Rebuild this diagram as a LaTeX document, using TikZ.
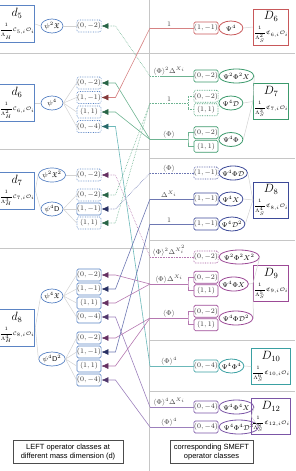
\documentclass[tikz,border=0pt]{standalone}
\usepackage{amsmath,amssymb}
\usepackage{fontspec}
\newfontfamily\notefont{Liberation Sans}
\usetikzlibrary{arrows.meta,shapes.geometric}
\definecolor{leftB}{HTML}{5B84C4}
\definecolor{smR}{HTML}{C8585A}
\definecolor{smG}{HTML}{3C9A6C}
\definecolor{smN}{HTML}{3D4A98}
\definecolor{smM}{HTML}{9C4A96}
\definecolor{smT}{HTML}{3AA0A2}
\definecolor{smV}{HTML}{7B55A6}
\newcommand{\coefsize}{\fontsize{5.2}{6}\selectfont}
\begin{document}
\begin{tikzpicture}[
  x=1pt, y=-1pt,
  font=\scriptsize,
  sep/.style={draw=gray!45, line width=0.8pt},
  dcls/.style={draw=leftB, line width=0.8pt, minimum width=31pt, minimum height=37pt, inner xsep=0.5pt, inner ysep=1pt, align=center},
  lop/.style={ellipse, draw=leftB, line width=0.7pt, minimum width=22pt, minimum height=14pt, inner sep=0pt},
  qn/.style={draw=#1, rounded corners=1.5pt, line width=0.7pt, minimum width=24pt, minimum height=12pt, inner sep=0pt, text=black!80},
  fan/.style={draw=gray!35, line width=0.5pt},
  link/.style={line width=0.6pt},
  glab/.style={anchor=south, inner sep=1pt, text=black!75},
  rop/.style={ellipse, draw=#1, line width=0.8pt, minimum width=24pt, minimum height=14pt, inner xsep=-1pt, inner ysep=-1pt, anchor=west},
  Dcls/.style={draw=#1, line width=0.9pt, minimum width=34pt, minimum height=36pt, inner xsep=0.5pt, inner ysep=1pt, align=center},
  note/.style={draw=black!70, line width=0.6pt, font=\notefont\fontsize{7.5}{9}\selectfont, align=center, inner sep=2pt, minimum height=23pt}
]
\useasboundingbox (0,0) rectangle (295,471);
\draw[sep] (149.5,0) -- (149.5,471);
\foreach \y in {53,149,248} \draw[sep] (0,\y) -- (149.5,\y);
\foreach \y in {53,158,240,340,391} \draw[sep] (149.5,\y) -- (295,\y);

\foreach \n/\y in {5/24, 6/103, 7/190.5, 8/327.5}{
  \pgfmathtruncatemacro{\p}{\n-4}
  \node[dcls] (d\n) at (17,\y) {{\large$d_{\n}$}\\[4pt]\coefsize$\dfrac{1}{\Lambda_H^{\ifnum\p>1 \p\fi}}\mathcal{C}_{\n,i}\mathcal{O}_i$};
}

\node[lop] (e5) at (52,26) {$\psi^2\mathfrak{X}$};
\node[lop] (e6) at (52,103) {$\psi^4$};
\node[lop] (e7a) at (52,175) {$\psi^2\mathfrak{X}^2$};
\node[lop] (e7b) at (52,209) {$\psi^4\mathsf{D}$};
\node[lop] (e8a) at (52,296) {$\psi^4\mathfrak{X}$};
\node[lop] (e8b) at (52,359) {$\psi^4\mathsf{D}^2$};
\foreach \d/\e in {d5/e5, d6/e6, d7/e7a, d7/e7b, d8/e8a, d8/e8b}
  \draw[fan] (\d.east) -- (\e.west);

\foreach \n/\y/\q/\e/\sty in {
  5/26/{(0,-2)}/e5/densely dotted,
  6a/83/{(0,-2)}/e6/densely dotted, 6b/97.5/{(1,-1)}/e6/densely dotted,
  6c/112/{(1,1)}/e6/densely dotted, 6d/126.5/{(0,-4)}/e6/densely dotted,
  7a/175/{(0,-2)}/e7a/densely dotted,
  7b/195/{(0,-2)}/e7b/densely dotted, 7c/209/{(1,-1)}/e7b/solid, 7d/223/{(1,1)}/e7b/densely dotted,
  8a/275/{(0,-2)}/e8a/solid, 8b/289/{(1,-1)}/e8a/solid, 8c/303/{(1,1)}/e8a/solid, 8d/317/{(0,-4)}/e8a/solid,
  8e/338/{(0,-2)}/e8b/solid, 8f/352/{(1,-1)}/e8b/solid, 8g/366/{(1,1)}/e8b/solid, 8h/380/{(0,-4)}/e8b/solid}{
  \node[qn=leftB, \sty] (q\n) at (89,\y) {$\q$};
  \draw[fan] (\e.east) -- (q\n.west);
}

\foreach \n/\y/\x/\lab/\q/\op/\c/\sty in {
  6/28/150/{1}/{(1,-1)}/{\Psi^4}/smR/solid,
  7a/76/162/{\langle\Phi\rangle^2\Delta^{X_i}}/{(0,-2)}/{\Psi^2\Phi^2X}/smG/solid,
  8a/173/150/{\langle\Phi\rangle}/{(1,-1)}/{\Psi^4\Phi\mathcal{D}}/smN/densely dotted,
  8b/199/150/{\Delta^{X_i}}/{(1,-1)}/{\Psi^4X}/smN/solid,
  8c/224/150/{1}/{(1,-1)}/{\Psi^4\mathcal{D}^2}/smN/solid,
  9a/257/150/{\langle\Phi\rangle^2\Delta^{X_i^2}}/{(0,-2)}/{\Psi^2\Phi^2X^2}/smM/densely dotted,
  10/366/150/{\langle\Phi\rangle^4}/{(0,-4)}/{\Psi^4\Phi^4}/smT/solid,
  12a/407/150/{\langle\Phi\rangle^4\Delta^{X_i}}/{(0,-4)}/{\Psi^4\Phi^4X}/smV/solid,
  12b/427/150/{\langle\Phi\rangle^4}/{(0,-4)}/{\Psi^4\Phi^4\mathcal{D}^2}/smV/solid}{
  \coordinate (j\n) at (150,\y);
  \coordinate (k\n) at (\x,\y);
  \node[qn=\c, \sty] (r\n) at (206,\y) {$\q$};
  \node[rop=\c] (o\n) at (218.5,\y) {$\op$};
  \draw[link, draw=\c!75, \sty] (k\n) -- (r\n.west);
  \node[glab] (l\n) at (169,\y) {$\lab$};
}

\foreach \n/\y/\lab/\op/\c/\sty in {
  7b/103/{1}/{\Psi^4\mathcal{D}}/smG/densely dotted,
  7c/139.5/{\langle\Phi\rangle}/{\Psi^4\Phi}/smG/solid,
  9b/284/{\langle\Phi\rangle\Delta^{X_i}}/{\Psi^4\Phi X}/smM/solid,
  9c/318/{\langle\Phi\rangle}/{\Psi^4\Phi\mathcal{D}^2}/smM/solid}{
  \coordinate (j\n) at (150,\y);
  \coordinate (b\n) at (188,\y);
  \node[qn=\c, \sty] (ru\n) at (206,\y-6.75) {$(0,-2)$};
  \node[qn=\c, \sty] (rl\n) at (206,\y+6.75) {$(1,1)$};
  \node[rop=\c] (o\n) at (218.5,\y) {$\op$};
  \draw[link, draw=\c!75, \sty] (j\n) -- (b\n);
  \draw[link, draw=\c!75, \sty] (ru\n.west) -| (b\n) |- (rl\n.west);
  \node[glab] (l\n) at (169,\y) {$\lab$};
}

\foreach \n/\y/\p/\c in {6/27/2/smR, 7/101.5/3/smG, 8/200/4/smN, 9/283.5/5/smM, 10/366.5/6/smT, 12/416.5/8/smV}
  \node[Dcls=\c] (D\n) at (271,\y) {{\large$D_{\n}$}\\[4pt]\coefsize$\dfrac{1}{\Lambda_S^{\p}}\mathfrak{C}_{\n,i}\mathcal{O}_i$};
\foreach \o/\D in {6/6, 7a/7, 7b/7, 7c/7, 8a/8, 8b/8, 8c/8, 9a/9, 9b/9, 9c/9, 10/10, 12a/12, 12b/12}
  \draw[fan] (o\o.east) -- (D\D.west);

\foreach \q/\j/\c/\sty in {
  5/7a/smG/densely dotted, 6a/7c/smG/solid, 6b/6/smR/solid, 6c/7c/smG/solid, 6d/10/smT/solid,
  7a/9a/smM/densely dotted, 7b/7b/smG/densely dotted, 7c/8a/smN/densely dotted, 7d/7b/smG/densely dotted,
  8a/9b/smM/solid, 8b/8b/smN/solid, 8c/9b/smM/solid, 8d/12a/smV/solid,
  8e/9c/smM/solid, 8f/8c/smN/solid, 8g/9c/smM/solid, 8h/12b/smV/solid}{
  \draw[link, draw=\c!75, \sty, {Latex[length=7pt, width=6pt, color=\c!65!black]}-] (q\q.east) -- ++(14,0) -- (j\j);
}
\draw[link, draw=smG!75, densely dotted] (j7a) -- (k7a);

\node[note, minimum width=110pt] (lnote) at (68,452) {LEFT operator classes at\\different mass dimension (d)};
\node[note, minimum width=83pt] (rnote) at (211.5,452) {corresponding SMEFT\\operator classes};
\end{tikzpicture}
\end{document}
